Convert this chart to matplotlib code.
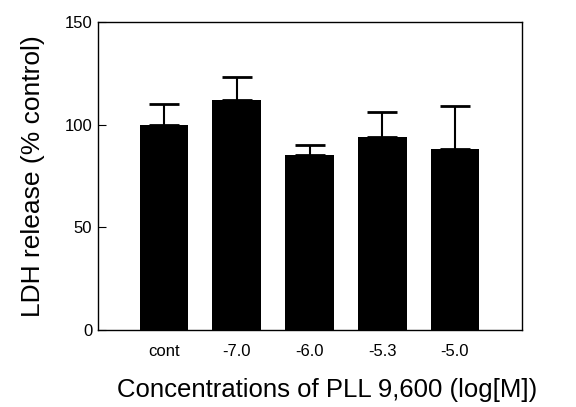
import numpy as np
import matplotlib.pyplot as plt

plt.rcParams['font.family'] = ['Liberation Sans', 'DejaVu Sans']

# LDH release data
labels = ['cont', '-7.0', '-6.0', '-5.3', '-5.0']
means = [100, 112, 85, 94, 88]
errors = [10, 11, 5, 12, 21]

fig = plt.figure(figsize=(5.76, 4.07), dpi=100)
ax = fig.add_axes([0.170, 0.189, 0.736, 0.757])

x = np.arange(len(labels))
ax.bar(x, means, width=0.67, color='black', zorder=2)
ax.errorbar(x, means, yerr=[np.zeros(len(errors)), errors], fmt='none',
            ecolor='black', elinewidth=1.5, capsize=10.5, capthick=2, zorder=1)

ax.set_xlim(-0.91, 4.92)
ax.set_ylim(0, 150)
ax.set_yticks([0, 50, 100, 150])
ax.set_xticks(x)
ax.set_xticklabels(labels)
ax.tick_params(axis='x', length=0, labelsize=12, pad=10)
ax.tick_params(axis='y', direction='in', length=6, labelsize=12, pad=4)
for s in ax.spines.values():
    s.set_linewidth(1.0)

ax.set_ylabel('LDH release (% control)', fontsize=19)
ax.yaxis.set_label_coords(-0.125, 0.5)
ax.set_xlabel('Concentrations of PLL 9,600 (log[M])', fontsize=18.5)
ax.xaxis.set_label_coords(0.54, -0.155)

fig.savefig('out.png', dpi=100)
